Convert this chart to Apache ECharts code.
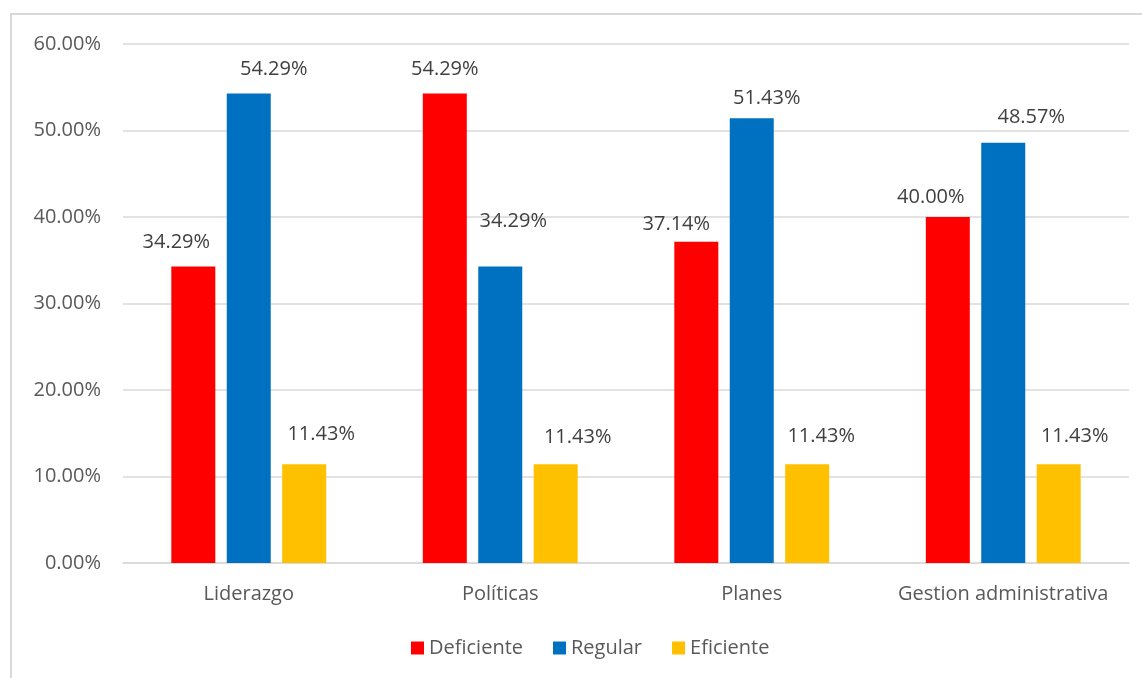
<!DOCTYPE html>
<html>
<head>
<meta charset="utf-8">
<script src="https://cdn.jsdelivr.net/npm/echarts@6/dist/echarts.min.js"></script>
<style>
html,body{margin:0;padding:0;background:#fff;}
#chart{width:1142px;height:678px;}
</style>
</head>
<body>
<div id="chart"></div>
<script>
const categories = ['Liderazgo', 'Políticas', 'Planes', 'Gestion administrativa'];
const deficiente = [34.29, 54.29, 37.14, 40.00];
const regular = [54.29, 34.29, 51.43, 48.57];
const eficiente = [11.43, 11.43, 11.43, 11.43];
const yTicks = [0, 10, 20, 30, 40, 50, 60];

const FONT = '"Open Sans", "Noto Sans", sans-serif';
const TXT = '#595959';
const FS = 20;

// label nudges (horizontal, vertical) as placed in the original
const nudges = {
  Deficiente: [[-17, -3], [0, -3], [-20, 4], [-17, 1]],
  Regular: [[25, -3], [13, -24], [15, 1], [28, -5]],
  Eficiente: [[17, -9], [22, -6], [14, -7], [16, -7]]
};

function makeSeries(name, values, color) {
  return {
    name: name,
    type: 'bar',
    barWidth: 44,
    barGap: '26%',
    itemStyle: { color: color },
    data: values.map((v, i) => ({
      value: v,
      label: { offset: nudges[name][i] }
    })),
    label: {
      show: true,
      position: 'top',
      distance: 11,
      fontFamily: FONT,
      fontSize: FS,
      color: '#404040',
      formatter: p => p.value.toFixed(2) + '%'
    }
  };
}

const chart = echarts.init(document.getElementById('chart'), null, { renderer: 'canvas' });
chart.setOption({
  backgroundColor: '#fff',
  animation: false,
  graphic: [{
    type: 'rect',
    shape: { x: 11, y: 14, width: 1200, height: 700 },
    style: { fill: 'none', stroke: '#d9d9d9', lineWidth: 2 },
    silent: true
  }],
  grid: { left: 123, right: 13, top: 44, bottom: 115, containLabel: false },
  legend: {
    bottom: 15,
    left: 406,
    itemWidth: 13,
    itemHeight: 13,
    itemGap: 30,
    icon: 'rect',
    textStyle: { fontFamily: FONT, fontSize: FS, color: TXT },
    data: ['Deficiente', 'Regular', 'Eficiente']
  },
  xAxis: {
    type: 'category',
    data: categories,
    axisLine: { lineStyle: { color: '#d9d9d9', width: 1.5 } },
    axisTick: { show: false },
    axisLabel: { interval: 0, hideOverlap: false, fontFamily: FONT, fontSize: FS, color: TXT, margin: 21 }
  },
  yAxis: {
    type: 'value',
    min: yTicks[0],
    max: yTicks[yTicks.length - 1],
    interval: 10,
    axisLine: { show: false },
    axisTick: { show: false },
    splitLine: { lineStyle: { color: '#d9d9d9', width: 1.5 } },
    axisLabel: {
      fontFamily: FONT, fontSize: FS, color: TXT, margin: 22,
      formatter: v => v.toFixed(2) + '%'
    }
  },
  series: [
    makeSeries('Deficiente', deficiente, '#FF0000'),
    makeSeries('Regular', regular, '#0070C0'),
    makeSeries('Eficiente', eficiente, '#FFC000')
  ]
});
</script>
</body>
</html>
